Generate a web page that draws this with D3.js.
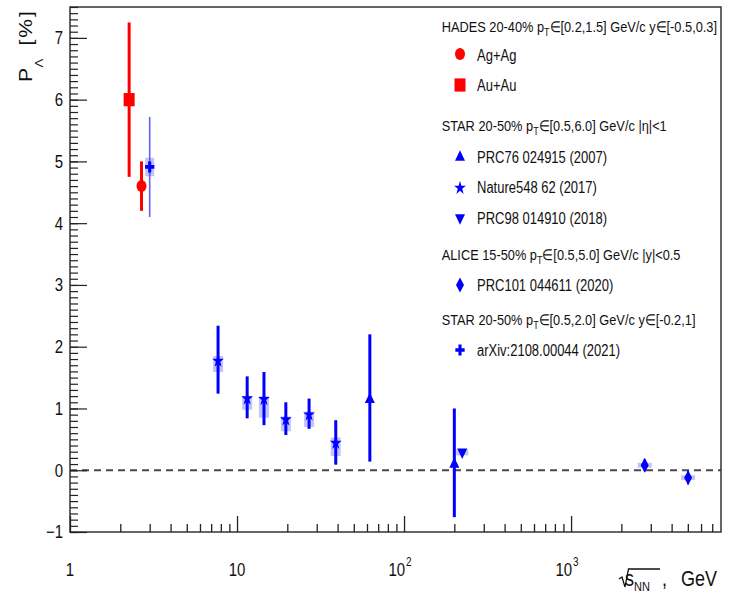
<!DOCTYPE html>
<html><head><meta charset="utf-8">
<script src="https://cdn.jsdelivr.net/npm/d3@7"></script>
<style>
html,body{margin:0;padding:0;background:#fff;}
svg{display:block;font-family:"Liberation Sans",Arial,sans-serif;}
</style></head><body>
<svg id="chart" width="730" height="605"></svg>
<script>
// Λ global polarization P_Λ (%) versus collision energy √sNN (GeV)

// HADES Ag+Ag
const agagEnergy = [2.68];
const agagPol = [4.60];
const agagErr = [0.40];
// HADES Au+Au
const auauEnergy = [2.26];
const auauPol = [6.00];
const auauErr = [1.25];
// STAR PRC76 024915 (2007)
const prc76Energy = [62.4, 200];
const prc76Pol = [1.15, 0.10];
const prc76ErrLow = [1.01, 0.86];
const prc76ErrHigh = [1.05, 0.90];
// STAR Nature548 62 (2017)
const nature548Energy = [7.7, 11.5, 14.5, 19.6, 27, 39];
const nature548Pol = [1.77, 1.16, 1.15, 0.82, 0.90, 0.44];
const nature548ErrLow = [0.53, 0.32, 0.42, 0.25, 0.23, 0.35];
const nature548ErrHigh = [0.57, 0.36, 0.44, 0.28, 0.26, 0.37];
const nature548SysLow = [0.18, 0.18, 0.30, 0.19, 0.20, 0.21];
const nature548SysHigh = [0.08, 0.04, 0.05, 0.05, 0.05, 0.09];
// STAR PRC98 014910 (2018)
const prc98Energy = [223];
const prc98Pol = [0.29];
const prc98Err = [0.04];
const prc98Sys = [0.05];
// ALICE PRC101 044611 (2020)
const prc101Energy = [2760, 5020];
const prc101Pol = [0.08, -0.12];
const prc101Err = [0.10, 0.11];
const prc101Sys = [0.04, 0.04];
// STAR arXiv:2108.00044 (2021)
const arxivEnergy = [3.0];
const arxivPol = [4.91];
const arxivErr = [0.81];
const arxivSys = [0.15];

// axis ticks
const xMajorTicks = [1, 10, 100, 1000];
const xTickExponents = [0, 1, 2, 3];
const xMinorTicks = [];
for (const dec of [1, 10, 100, 1000]) for (let m = 2; m <= 9; m++) if (m * dec < 7900) xMinorTicks.push(m * dec);
const yMajorTicks = [-1, 0, 1, 2, 3, 4, 5, 6, 7];
const yMinorTicks = d3.range(-10, 76).map(v => v / 10);

const RED = "#ff0000", BLUE = "#0000ff", SYS = "#7c7cf5";
const SY = 1.2; // vertical glyph stretch

const svg = d3.select("#chart");
svg.append("rect").attr("width", 730).attr("height", 605).attr("fill", "#fff");

const x = d3.scaleLog().domain([1, 7900]).range([70, 721]);
const y = d3.scaleLinear().domain([-1, 7.5]).range([532, 7]);

const plot = svg.append("g");

function stretched(parent, tx, ty) {
  return parent.append("text")
    .attr("transform", `translate(${tx},${ty}) scale(1,${SY})`)
    .attr("fill", "#111");
}

function marker(parent, sym, cx, cy, color) {
  parent.append("path")
    .attr("d", sym)
    .attr("transform", `translate(${cx},${cy}) scale(1,${SY})`)
    .attr("fill", color);
}

const symCircle = d3.symbol(d3.symbolCircle, Math.PI * 25)();
const symSquare = "M-5.5,-5.5H5.5V5.5H-5.5Z";
const symTriUp = "M0,-5.6L5,3.1L-5,3.1Z";
const symTriDown = "M0,5.6L5,-3.1L-5,-3.1Z";
const symStar = d3.symbol(d3.symbolStar, 42)();
const symDiamond = "M0,-6.2L4,0L0,6.2L-4,0Z";
const symCross = d3.symbol(d3.symbolCross, 48)();

// dashed zero line
plot.append("line")
  .attr("x1", x(1)).attr("x2", x(7900))
  .attr("y1", y(0)).attr("y2", y(0))
  .attr("stroke", "#4a4a4a").attr("stroke-width", 1.8)
  .attr("stroke-dasharray", "7,5");

// systematic boxes
function sysBoxes(en, pol, lo, hi, w) {
  plot.append("g").selectAll("rect").data(en).join("rect")
    .attr("x", d => x(d) - w / 2).attr("width", w)
    .attr("y", (d, i) => y(pol[i] + hi[i]))
    .attr("height", (d, i) => y(pol[i] - lo[i]) - y(pol[i] + hi[i]))
    .attr("fill", SYS).attr("opacity", 0.45);
}
sysBoxes(nature548Energy, nature548Pol, nature548SysLow, nature548SysHigh, 10);
sysBoxes(prc98Energy, prc98Pol, prc98Sys, prc98Sys, 12);
sysBoxes(prc101Energy, prc101Pol, prc101Sys, prc101Sys, 14);
sysBoxes(arxivEnergy, arxivPol, arxivSys, arxivSys, 9);

// statistical error bars
function errBars(en, pol, lo, hi, color, w, op) {
  plot.append("g").selectAll("line").data(en).join("line")
    .attr("x1", d => x(d)).attr("x2", d => x(d))
    .attr("y1", (d, i) => y(pol[i] - lo[i]))
    .attr("y2", (d, i) => y(pol[i] + hi[i]))
    .attr("stroke", color).attr("stroke-width", w).attr("opacity", op || 1);
}
errBars(auauEnergy, auauPol, auauErr, auauErr, RED, 3);
errBars(agagEnergy, agagPol, agagErr, agagErr, RED, 3);
errBars(prc76Energy, prc76Pol, prc76ErrLow, prc76ErrHigh, BLUE, 3);
errBars(nature548Energy, nature548Pol, nature548ErrLow, nature548ErrHigh, BLUE, 3);
errBars(prc98Energy, prc98Pol, prc98Err, prc98Err, BLUE, 2);
errBars(prc101Energy, prc101Pol, prc101Err, prc101Err, BLUE, 2);
errBars(arxivEnergy, arxivPol, arxivErr, arxivErr, "#3c3cf0", 1.6, 0.8);

// markers
function markers(en, pol, sym, color) {
  en.forEach((e, i) => marker(plot, sym, x(e), y(pol[i]), color));
}
markers(auauEnergy, auauPol, symSquare, RED);
markers(agagEnergy, agagPol, symCircle, RED);
markers(prc76Energy, prc76Pol, symTriUp, BLUE);
markers(nature548Energy, nature548Pol, symStar, BLUE);
markers(prc98Energy, prc98Pol, symTriDown, BLUE);
markers(prc101Energy, prc101Pol, symDiamond, BLUE);
markers(arxivEnergy, arxivPol, symCross, BLUE);

// frame
svg.append("rect")
  .attr("x", 70).attr("y", 7).attr("width", 651).attr("height", 525)
  .attr("fill", "none").attr("stroke", "#333").attr("stroke-width", 1.5);

// x axis ticks (pointing inward)
const xAxisMajor = d3.axisBottom(x).tickValues(xMajorTicks).tickSizeInner(-16).tickSizeOuter(0).tickFormat("");
const xAxisMinor = d3.axisBottom(x).tickValues(xMinorTicks).tickSizeInner(-8).tickSizeOuter(0).tickFormat("");
[xAxisMajor, xAxisMinor].forEach(ax => {
  const g = svg.append("g").attr("transform", `translate(0,${y(-1)})`).call(ax);
  g.select(".domain").remove();
  g.selectAll(".tick line").attr("stroke", "#222").attr("stroke-width", 1.3);
});
// y axis ticks
const yAxisMajor = d3.axisLeft(y).tickValues(yMajorTicks).tickSizeInner(-17).tickSizeOuter(0).tickFormat("");
const yAxisMinor = d3.axisLeft(y).tickValues(yMinorTicks).tickSizeInner(-8).tickSizeOuter(0).tickFormat("");
[yAxisMajor, yAxisMinor].forEach(ax => {
  const g = svg.append("g").attr("transform", `translate(${x(1)},0)`).call(ax);
  g.select(".domain").remove();
  g.selectAll(".tick line").attr("stroke", "#222").attr("stroke-width", 1.2);
});

// tick labels
xMajorTicks.forEach((v, i) => {
  const ex = xTickExponents[i];
  if (ex < 2) {
    stretched(svg, x(v), 576).attr("text-anchor", "middle").attr("font-size", 15).text(String(v));
  } else {
    const t = stretched(svg, x(v) - 4, 576).attr("text-anchor", "middle").attr("font-size", 15);
    t.append("tspan").text("10");
    t.append("tspan").attr("font-size", 10).attr("dy", -8).attr("dx", 1).text(String(ex));
  }
});
yMajorTicks.forEach(v => {
  stretched(svg, 63, y(v) + 6.4).attr("text-anchor", "end").attr("font-size", 15)
    .text(v < 0 ? "\u2212" + Math.abs(v) : String(v));
});

// axis titles
const xt = stretched(svg, 625, 586).attr("font-size", 18);
xt.append("tspan").text("s");
xt.append("tspan").attr("font-size", 11).attr("dy", 4).text("NN");
const xt2 = stretched(svg, 717, 586).attr("font-size", 18).attr("text-anchor", "end");
xt2.append("tspan").text(",");
xt2.append("tspan").attr("dx", 14).text("GeV");
svg.append("path")
  .attr("d", "M619,579 L622,577 L625,587 L628.5,569 L660,569")
  .attr("fill", "none").attr("stroke", "#111").attr("stroke-width", 1.3);

const yt = svg.append("text")
  .attr("transform", `translate(32.3,82) scale(1,${SY}) rotate(-90)`)
  .attr("fill", "#111").attr("font-size", 17.5);
yt.append("tspan").attr("x", 0).attr("y", 0).text("P");
yt.append("tspan").attr("x", 12).attr("y", 10.5).attr("font-size", 11).text("\u039B");
yt.append("tspan").attr("x", 30.5).attr("y", 0).attr("letter-spacing", 1.6).text("[%]");

// legend
function header(yb, parts) {
  const t = stretched(svg, 441.7, yb).attr("font-size", 12.8);
  parts.forEach(p => {
    if (p.sub) t.append("tspan").attr("font-size", 9).attr("dy", 3.5).text(p.sub);
    else t.append("tspan").attr("dy", p.after ? -3.5 : 0).text(p.text);
  });
}
function entry(yb, ym, sym, color, label) {
  marker(svg, sym, 460, ym, color);
  stretched(svg, 477, yb).attr("font-size", 13).text(label);
}
header(31.5, [{text: "HADES 20-40% p"}, {sub: "T"}, {text: "\u2208[0.2,1.5] GeV/c y\u2208[-0.5,0.3]", after: true}]);
entry(60.5, 54, symCircle, RED, "Ag+Ag");
entry(90.5, 85, symSquare, RED, "Au+Au");
header(130.5, [{text: "STAR 20-50% p"}, {sub: "T"}, {text: "\u2208[0.5,6.0] GeV/c |\u03B7|<1", after: true}]);
entry(162.5, 157, symTriUp, BLUE, "PRC76 024915 (2007)");
entry(193, 188, symStar, BLUE, "Nature548 62 (2017)");
entry(224, 218, symTriDown, BLUE, "PRC98 014910 (2018)");
header(260, [{text: "ALICE 15-50% p"}, {sub: "T"}, {text: "\u2208[0.5,5.0] GeV/c |y|<0.5", after: true}]);
entry(290.5, 285, symDiamond, BLUE, "PRC101 044611 (2020)");
header(325, [{text: "STAR 20-50% p"}, {sub: "T"}, {text: "\u2208[0.5,2.0] GeV/c y\u2208[-0.2,1]", after: true}]);
entry(355.5, 350, symCross, BLUE, "arXiv:2108.00044 (2021)");
</script>
</body></html>
